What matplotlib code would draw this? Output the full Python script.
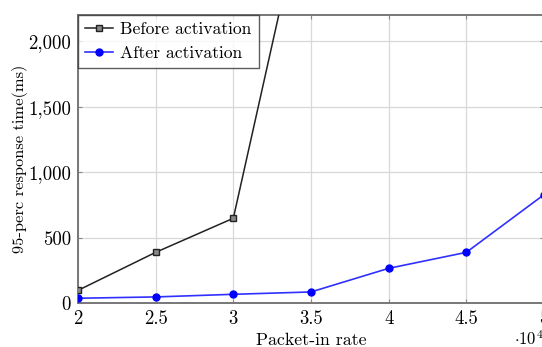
import matplotlib
matplotlib.use("Agg")
import matplotlib.pyplot as plt

# data
rates = [2.0, 2.5, 3.0, 3.5, 4.0, 4.5, 5.0]
before = [100, 390, 650, 3300]
after = [40, 50, 70, 88, 268, 390, 830]
yticks = [0, 500, 1000, 1500, 2000]
ytick_labels = ["0", "500", "1,000", "1,500", "2,000"]
xticks = [2.0, 2.5, 3.0, 3.5, 4.0, 4.5, 5.0]
xtick_labels = ["2", "2.5", "3", "3.5", "4", "4.5", "5"]

plt.rcParams["font.family"] = "cmr10"
plt.rcParams["mathtext.fontset"] = "cm"
plt.rcParams["axes.formatter.use_mathtext"] = True

fig = plt.figure(figsize=(5.42, 3.47), dpi=100)
ax = fig.add_axes([0.1439, 0.1254, 0.8598, 0.8314])

ax.plot(rates[:len(before)], before, color="#222222", lw=1.1,
        marker="s", ms=5, mfc="#888888", mec="#222222", mew=1.0,
        label="Before activation", zorder=3)
ax.plot(rates, after, color="#3030ff", lw=1.2,
        marker="o", ms=5, mfc="#0000ff", mec="#0000ff",
        label="After activation", zorder=3)

ax.set_xlim(2, 5)
ax.set_ylim(0, 2200)
ax.set_xticks(xticks)
ax.set_xticklabels(xtick_labels)
ax.set_yticks(yticks)
ax.set_yticklabels(ytick_labels)
ax.tick_params(direction="in", length=3, width=0.8, color="#888888",
               labelsize=13.5, top=True, right=True, pad=5)
ax.grid(True, color="#d8d8d8", lw=0.9)
for s in ax.spines.values():
    s.set_color("#777777")
    s.set_linewidth(1.4)

ax.set_xlabel("Packet-in rate", fontsize=12.8, labelpad=3)
ax.set_ylabel("95-perc response time(ms)", fontsize=11.8, labelpad=0)
ax.text(0.935, -0.122, r"$\cdot 10^4$", transform=ax.transAxes,
        ha="left", va="center", fontsize=12)

leg = ax.legend(loc="upper left", fontsize=12.7, frameon=True, fancybox=False,
                edgecolor="#333333", borderaxespad=0.0, handlelength=1.6,
                handletextpad=0.4, borderpad=0.4, labelspacing=0.45)
leg.get_frame().set_linewidth(1.0)

fig.savefig("out.png", dpi=100)
